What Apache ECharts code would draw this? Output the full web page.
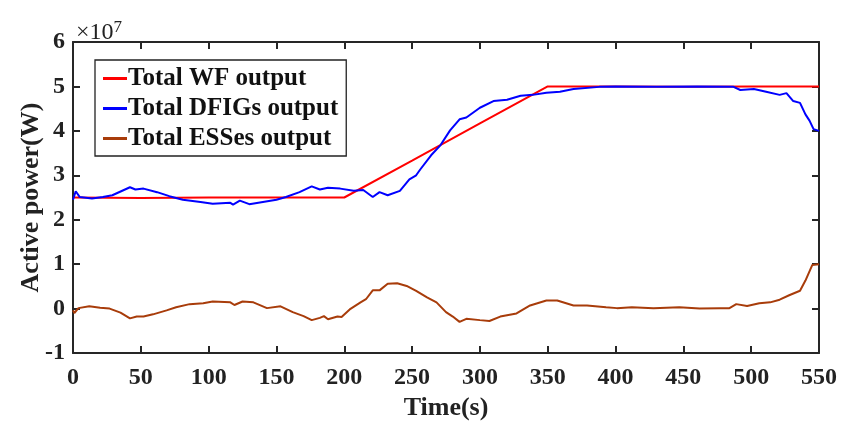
<!DOCTYPE html>
<html><head><meta charset="utf-8">
<script src="https://cdn.jsdelivr.net/npm/echarts@6/dist/echarts.min.js"></script>
<style>html,body{margin:0;padding:0;background:#fff}#c{width:841px;height:426px}</style>
</head><body><div id="c"></div>
<script>
// Data (values in units of 1e7 W)
const xTicks = [0,50,100,150,200,250,300,350,400,450,500,550];
const yTicks = [-1,0,1,2,3,4,5,6];
const wfTime  = [0, 50, 100, 150, 200, 250, 300, 350, 400, 450, 500, 550];
const wfValue = [2.50, 2.49, 2.50, 2.50, 2.50, 3.33, 4.17, 5.00, 5.00, 4.99, 5.00, 5.00];
const dfigTime  = [0,2,5,14,22,29,42,46,52,62,71,81,94,103,116,118,123,130,140,150,157,167,176,182,188,197,207,214,221,226,232,241,248,253,256,264,271,278,285,290,300,310,320,330,339,349,359,369,388,400,430,460,487,492,502,511,521,526,531,536,540,543,546,550];
const dfigValue = [2.45,2.64,2.51,2.48,2.51,2.55,2.73,2.68,2.70,2.62,2.53,2.45,2.40,2.36,2.38,2.34,2.43,2.35,2.40,2.45,2.51,2.62,2.75,2.68,2.72,2.70,2.65,2.67,2.51,2.62,2.55,2.65,2.91,3.00,3.13,3.45,3.68,4.01,4.26,4.30,4.52,4.67,4.70,4.79,4.81,4.86,4.88,4.94,4.99,5.00,4.99,5.00,4.99,4.92,4.94,4.88,4.81,4.85,4.67,4.63,4.37,4.23,4.04,4.00];
const essTime  = [0,1,4,12,20,27,35,42,47,52,59,69,76,86,96,103,116,119,125,133,143,153,162,170,176,182,185,188,195,198,204,212,216,221,226,232,239,246,253,261,268,275,280,285,290,300,307,315,327,337,349,357,369,379,393,401,412,428,447,462,477,484,489,497,506,514,521,528,536,540,545,550];
const essValue = [-0.04,-0.10,0.01,0.05,0.02,0.00,-0.09,-0.22,-0.18,-0.18,-0.13,-0.04,0.03,0.10,0.12,0.16,0.14,0.08,0.16,0.14,0.01,0.05,-0.08,-0.17,-0.26,-0.21,-0.17,-0.24,-0.18,-0.19,-0.02,0.14,0.21,0.41,0.41,0.56,0.57,0.51,0.40,0.25,0.14,-0.08,-0.18,-0.30,-0.23,-0.26,-0.28,-0.18,-0.11,0.07,0.18,0.18,0.07,0.07,0.03,0.01,0.03,0.01,0.03,0.00,0.01,0.01,0.10,0.06,0.12,0.14,0.20,0.30,0.40,0.63,0.98,1.00];
const seriesNames = ['Total WF output','Total DFIGs output','Total ESSes output'];
const seriesColors = ['#ff0000','#0000ff','#a83c0a'];

const zip = (a,b) => a.map((t,i)=>[t,b[i]]);
const font = 'Liberation Serif';
const axisCol = '#262626';
const chart = echarts.init(document.getElementById('c'), null, {renderer:'canvas'});
const mkLine = (name, data, color) => ({
  name, type:'line', data, symbol:'none', lineStyle:{color, width:2}, itemStyle:{color}, animation:false, z:3
});
const lineStyle = {color:axisCol, width:2};
chart.setOption({
  animation:false,
  grid:{left:73, right:22, top:42, bottom:64, containLabel:false},
  legend:{
    orient:'vertical', left:95, top:60, icon:'rect', itemWidth:24, itemHeight:3, itemGap:5,
    borderColor:'#222', borderWidth:1.3, padding:[6,8,5,8], backgroundColor:'#fff',
    textStyle:{fontFamily:font, fontWeight:'bold', fontSize:25, color:'#111', padding:[0,0,0,-4]},
    data:seriesNames
  },
  xAxis:[{
    type:'value', min:0, max:550, interval:50,
    name:'Time(s)', nameLocation:'middle', nameGap:42,
    nameTextStyle:{fontFamily:font, fontWeight:'bold', fontSize:26, color:'#222'},
    axisLine:{show:true, onZero:false, lineStyle},
    axisTick:{show:true, inside:true, length:7, lineStyle},
    axisLabel:{fontFamily:font, fontWeight:'bold', fontSize:24, color:'#222', margin:13},
    splitLine:{show:false}
  },{
    type:'value', min:0, max:550, interval:50, position:'top',
    axisLine:{show:true, onZero:false, lineStyle},
    axisTick:{show:true, inside:true, length:7, lineStyle},
    axisLabel:{show:false}, splitLine:{show:false}
  }],
  yAxis:[{
    type:'value', min:-1, max:6, interval:1,
    name:'Active power(W)', nameLocation:'middle', nameGap:29, nameMoveOverlap:false,
    nameTextStyle:{fontFamily:font, fontWeight:'bold', fontSize:26, color:'#222'},
    axisLine:{show:true, onZero:false, lineStyle},
    axisTick:{show:true, inside:true, length:7, lineStyle},
    axisLabel:{fontFamily:font, fontWeight:'bold', fontSize:24, color:'#222', margin:8},
    splitLine:{show:false}
  },{
    type:'value', min:-1, max:6, interval:1, position:'right',
    axisLine:{show:true, onZero:false, lineStyle},
    axisTick:{show:true, inside:true, length:7, lineStyle},
    axisLabel:{show:false}, splitLine:{show:false}
  }],
  graphic:[{
    type:'text', left:76, top:19,
    style:{text:'×10{s|7}', rich:{s:{fontFamily:font, fontSize:17, verticalAlign:'top', padding:[0,0,10,0]}},
      fontFamily:font, fontSize:24, fill:'#222'}
  }],
  series:[
    mkLine(seriesNames[0], zip(wfTime, wfValue), seriesColors[0]),
    mkLine(seriesNames[1], zip(dfigTime, dfigValue), seriesColors[1]),
    mkLine(seriesNames[2], zip(essTime, essValue), seriesColors[2])
  ]
});
</script></body></html>
